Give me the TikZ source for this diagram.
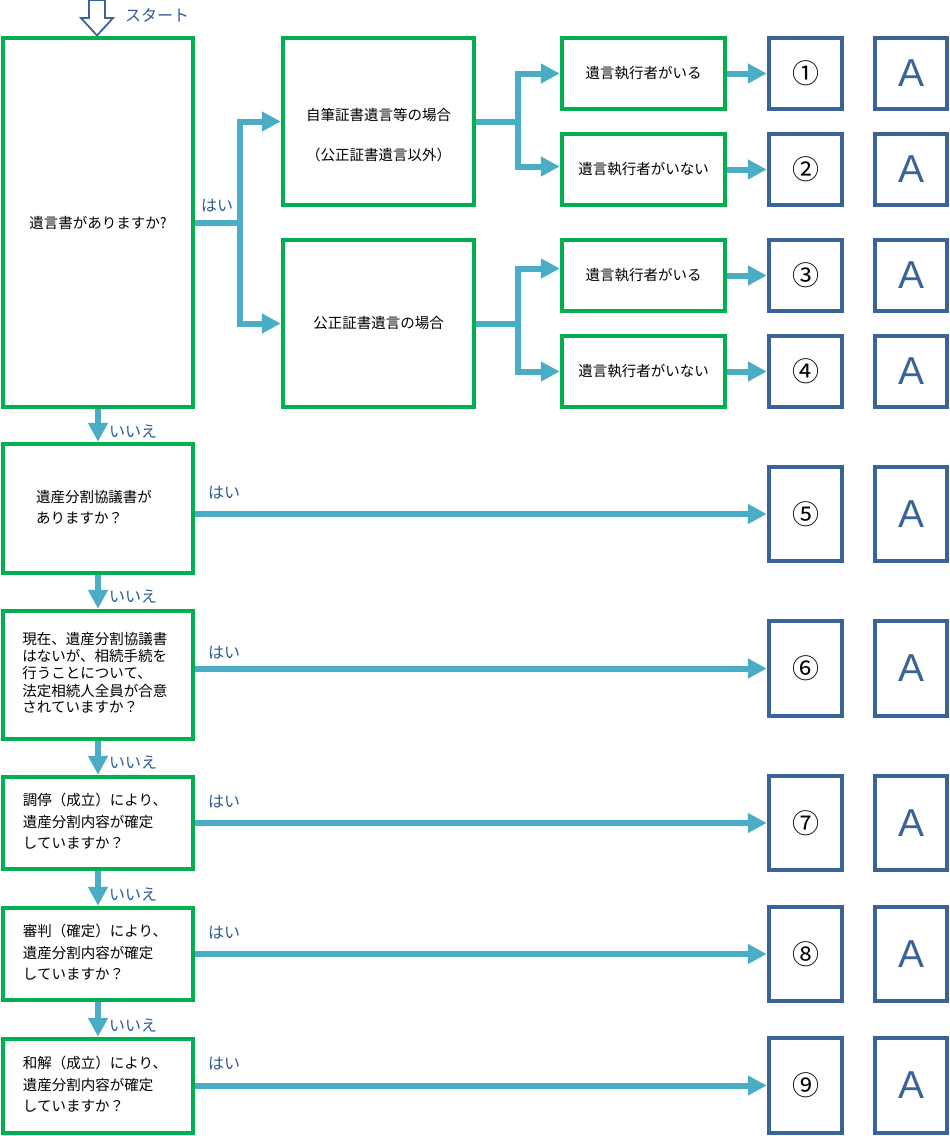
\documentclass[tikz,border=0pt]{standalone}
\usepackage{fontspec}
\setmainfont{Noto Sans CJK JP}
\newfontfamily\arialfont{Liberation Sans}
\usetikzlibrary{arrows.meta}
\definecolor{gr}{HTML}{00B050}
\definecolor{ar}{HTML}{4BACC6}
\definecolor{nb}{HTML}{3A6398}
\definecolor{lb}{HTML}{2F5B96}
\begin{document}
\begin{tikzpicture}[x=1pt,y=-1pt,
 gbox/.style={draw=gr, line width=4.5pt, fill=white, inner sep=0pt, align=left, font=\fontsize{14.5}{21}\selectfont},
 nbox/.style={draw=nb, line width=4.5pt, fill=white, inner sep=0pt, minimum width=73, font=\fontsize{27}{28}\selectfont},
 abox/.style={draw=nb, line width=4.5pt, fill=white, inner sep=0pt, minimum width=72, text=nb, font=\arialfont\fontsize{39}{40}\selectfont},
 arr/.style={draw=ar, line width=6pt, -{Triangle[length=19pt,width=19pt]}},
 lnk/.style={draw=ar, line width=6pt},
 lbl/.style={text=lb, font=\fontsize{16}{18}\selectfont, inner sep=0pt},
 txt/.style={inner sep=0pt, align=center, font=\fontsize{14.5}{18}\selectfont}
]
\useasboundingbox (0,0) rectangle (950,1136);

% start arrow
\draw[draw=nb, line width=1.8pt, fill=white, line join=miter]
  (89,0) -- (105,0) -- (105,18) -- (113,18) -- (97,35.5) -- (81,18) -- (89,18) -- cycle;
\node[lbl] (start) at (157,15) {スタート};

% left question boxes
\node[gbox, minimum width=190, minimum height=369] (q1) at (98,222.5) {遺言書がありますか?};
\node[gbox, minimum width=190, minimum height=129] (q2) at (98,508.5)
  {\raisebox{3pt}{\begin{tabular}{@{}l@{}}遺産分割協議書が\\ありますか？\end{tabular}}\hspace*{8pt}};
\node[gbox, minimum width=190, minimum height=128] (q3) at (98,675)
  {\raisebox{8pt}{\fontsize{14.5}{16.7}\selectfont\begin{tabular}{@{}l@{}}現在、遺産分割協議書\\はないが、相続手続を\\行うことについて、\\法定相続人全員が合意\\されていますか？\end{tabular}}\hspace*{6pt}};
\node[gbox, minimum width=190, minimum height=92] (q4) at (98,823)
  {\fontsize{14.5}{21.5}\selectfont\begin{tabular}{@{}l@{}}調停（成立）により、\\遺産分割内容が確定\\していますか？\end{tabular}\hspace*{6pt}};
\node[gbox, minimum width=190, minimum height=92] (q5) at (98,954)
  {\fontsize{14.5}{21.5}\selectfont\begin{tabular}{@{}l@{}}審判（確定）により、\\遺産分割内容が確定\\していますか？\end{tabular}\hspace*{6pt}};
\node[gbox, minimum width=190, minimum height=94] (q6) at (98,1086)
  {\fontsize{14.5}{21.5}\selectfont\begin{tabular}{@{}l@{}}和解（成立）により、\\遺産分割内容が確定\\していますか？\end{tabular}\hspace*{6pt}};

% middle boxes
\node[gbox, minimum width=191, minimum height=167] (m1) at (378.5,121.5) {};
\node[txt] (m1t) at (378.5,135) {自筆証書遺言等の場合\\[22pt]（公正証書遺言以外）};
\node[gbox, minimum width=191, minimum height=167, align=center] (m2) at (378.5,323.5) {公正証書遺言の場合};

% right boxes
\node[gbox, minimum width=163, minimum height=71, align=center] (r1) at (643.5,73.5) {遺言執行者がいる};
\node[gbox, minimum width=163, minimum height=71, align=center] (r2) at (643.5,169.5) {遺言執行者がいない};
\node[gbox, minimum width=163, minimum height=71, align=center] (r3) at (643.5,275.5) {遺言執行者がいる};
\node[gbox, minimum width=163, minimum height=71, align=center] (r4) at (643.5,371.5) {遺言執行者がいない};

% number boxes
\node[nbox, minimum height=71] (n1) at (805.5,73.5) {①};
\node[nbox, minimum height=71] (n2) at (805.5,169.5) {②};
\node[nbox, minimum height=71] (n3) at (805.5,275.5) {③};
\node[nbox, minimum height=71] (n4) at (805.5,371.5) {④};
\node[nbox, minimum height=94] (n5) at (805.5,514) {⑤};
\node[nbox, minimum height=95] (n6) at (805.5,668.5) {⑥};
\node[nbox, minimum height=94] (n7) at (805.5,823) {⑦};
\node[nbox, minimum height=94] (n8) at (805.5,954) {⑧};
\node[nbox, minimum height=95] (n9) at (805.5,1085.5) {⑨};

% A boxes
\node[abox, minimum height=71] (a1) at (911,73.5) {A};
\node[abox, minimum height=71] (a2) at (911,169.5) {A};
\node[abox, minimum height=71] (a3) at (911,275.5) {A};
\node[abox, minimum height=71] (a4) at (911,371.5) {A};
\node[abox, minimum height=94] (a5) at (911,514) {A};
\node[abox, minimum height=95] (a6) at (911,668.5) {A};
\node[abox, minimum height=94] (a7) at (911,823) {A};
\node[abox, minimum height=94] (a8) at (911,954) {A};
\node[abox, minimum height=95] (a9) at (911,1085.5) {A};

% branch from q1
\draw[lnk] (q1.east) -- ++(45,0) coordinate (j1);
\draw[arr] (j1) |- (m1.west);
\draw[arr] (j1) |- (m2.west);
\node[lbl] (y1) at (217,206) {はい};

% branch from m1
\draw[lnk] (m1.east) -- ++(42,0) coordinate (j2);
\draw[arr] (j2) |- (r1.west);
\draw[arr] (j2) |- ([yshift=3pt]r2.west);
% branch from m2
\draw[lnk] (m2.east) -- ++(42,0) coordinate (j3);
\draw[arr] (j3) |- ([yshift=7pt]r3.west);
\draw[arr] (j3) |- (r4.west);

% right arrows
\draw[arr] (r1.east) -- (n1.west);
\draw[arr] (r2.east) -- (n2.west);
\draw[arr] (r3.east) -- (n3.west);
\draw[arr] (r4.east) -- (n4.west);

% yes arrows
\draw[arr] (q2.east |- n5.west) -- (n5.west);
\draw[arr] (q3.east |- n6.west) -- (n6.west);
\draw[arr] (q4.east |- n7.west) -- (n7.west);
\draw[arr] (q5.east |- n8.west) -- (n8.west);
\draw[arr] (q6.east |- n9.west) -- (n9.west);
\node[lbl] (y5) at (224,493) {はい};
\node[lbl] (y6) at (224,653) {はい};
\node[lbl] (y7) at (224,802) {はい};
\node[lbl] (y8) at (224,933) {はい};
\node[lbl] (y9) at (224,1064) {はい};

% no arrows
\draw[arr] (q1.south) -- (q2.north);
\draw[arr] (q2.south) -- (q3.north);
\draw[arr] (q3.south) -- (q4.north);
\draw[arr] (q4.south) -- (q5.north);
\draw[arr] (q5.south) -- (q6.north);
\node[lbl] (no1) at (133,432) {いいえ};
\node[lbl] (no2) at (133,597) {いいえ};
\node[lbl] (no3) at (133,763) {いいえ};
\node[lbl] (no4) at (133,895) {いいえ};
\node[lbl] (no5) at (133,1026) {いいえ};
\end{tikzpicture}
\end{document}
